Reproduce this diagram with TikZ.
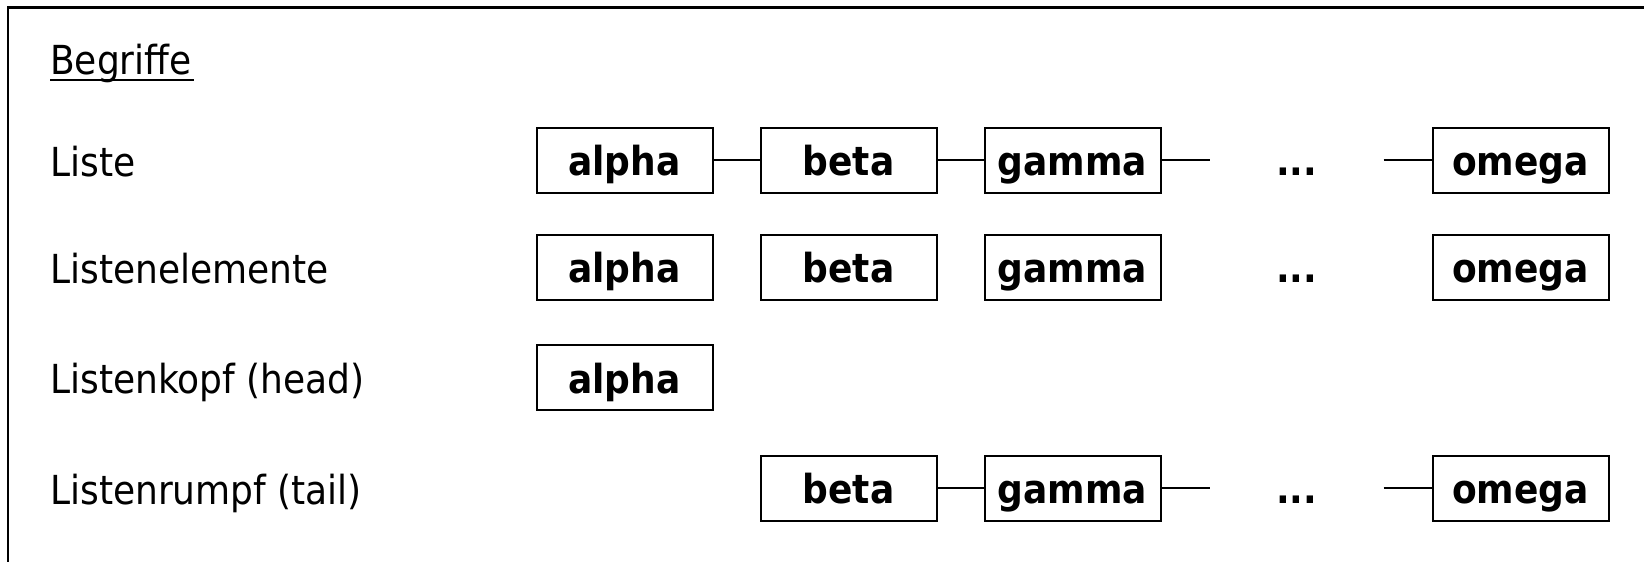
\documentclass[tikz,border=0pt]{standalone}
\usepackage{fontspec}
\setmainfont{DejaVu Sans Condensed}
\begin{document}
\begin{tikzpicture}[x=1pt,y=-1pt,
  labelfont/.style={font=\fontsize{40}{48}\selectfont},
  term/.style={labelfont, anchor=base west, inner sep=0pt},
  cell/.style={draw, line width=2pt, minimum width=176pt, minimum height=65pt,
    inner sep=0pt, text height=38pt, text depth=7pt,
    font=\fontsize{40}{48}\selectfont\bfseries},
  gapdots/.style={inner sep=0pt, text height=38pt, text depth=7pt,
    font=\fontsize{40}{48}\selectfont\bfseries},
  link/.style={line width=1.8pt},
  frame/.style={line width=2.2pt},
  rule/.style={line width=2.6pt}
]
\useasboundingbox (0,0) rectangle (1644,562);

% open frame: left and top edges
\coordinate (fbl) at (8.3,562);
\coordinate (ftl) at (8.3,7.5);
\coordinate (ftr) at (1644,7.5);
\draw[frame] (fbl) -- (ftl) -- (ftr);

% heading with its underline
\node[term] (head) at (50,74) {Begriffe};
\draw[rule] ([yshift=-6pt]head.base west) -- ([yshift=-6pt,xshift=2pt]head.base east);

% row labels
\node[term] (lListe)  at (50,176)   {Liste};
\node[term] (lElem)   at (50,283.5) {Listenelemente};
\node[term] (lKopf)   at (50,393.5) {Listenkopf (head)};
\node[term] (lRumpf)  at (50,504)   {Listenrumpf (tail)};

% row 1: the list
\node[cell] (a1) at (624.5,160) {alpha};
\node[cell] (b1) at (848.5,160) {beta};
\node[cell] (g1) at (1072.5,160) {gamma};
\node[gapdots] (d1) at (1296.5,160) {...};
\node[cell] (o1) at (1520.5,160) {omega};
\coordinate (g1r) at ([xshift=48pt]g1.east);
\coordinate (o1l) at ([xshift=-48pt]o1.west);
\draw[link] (a1) -- (b1);
\draw[link] (b1) -- (g1);
\draw[link] (g1.east) -- (g1r);
\draw[link] (o1l) -- (o1.west);

% row 2: the elements
\node[cell] (a2) at (624.5,267) {alpha};
\node[cell] (b2) at (848.5,267) {beta};
\node[cell] (g2) at (1072.5,267) {gamma};
\node[gapdots] (d2) at (1296.5,267) {...};
\node[cell] (o2) at (1520.5,267) {omega};

% row 3: head
\node[cell] (a3) at (624.5,377.5) {alpha};

% row 4: tail
\node[cell] (b4) at (848.5,488) {beta};
\node[cell] (g4) at (1072.5,488) {gamma};
\node[gapdots] (d4) at (1296.5,488) {...};
\node[cell] (o4) at (1520.5,488) {omega};
\coordinate (g4r) at ([xshift=48pt]g4.east);
\coordinate (o4l) at ([xshift=-48pt]o4.west);
\draw[link] (b4) -- (g4);
\draw[link] (g4.east) -- (g4r);
\draw[link] (o4l) -- (o4.west);
\end{tikzpicture}
\end{document}
